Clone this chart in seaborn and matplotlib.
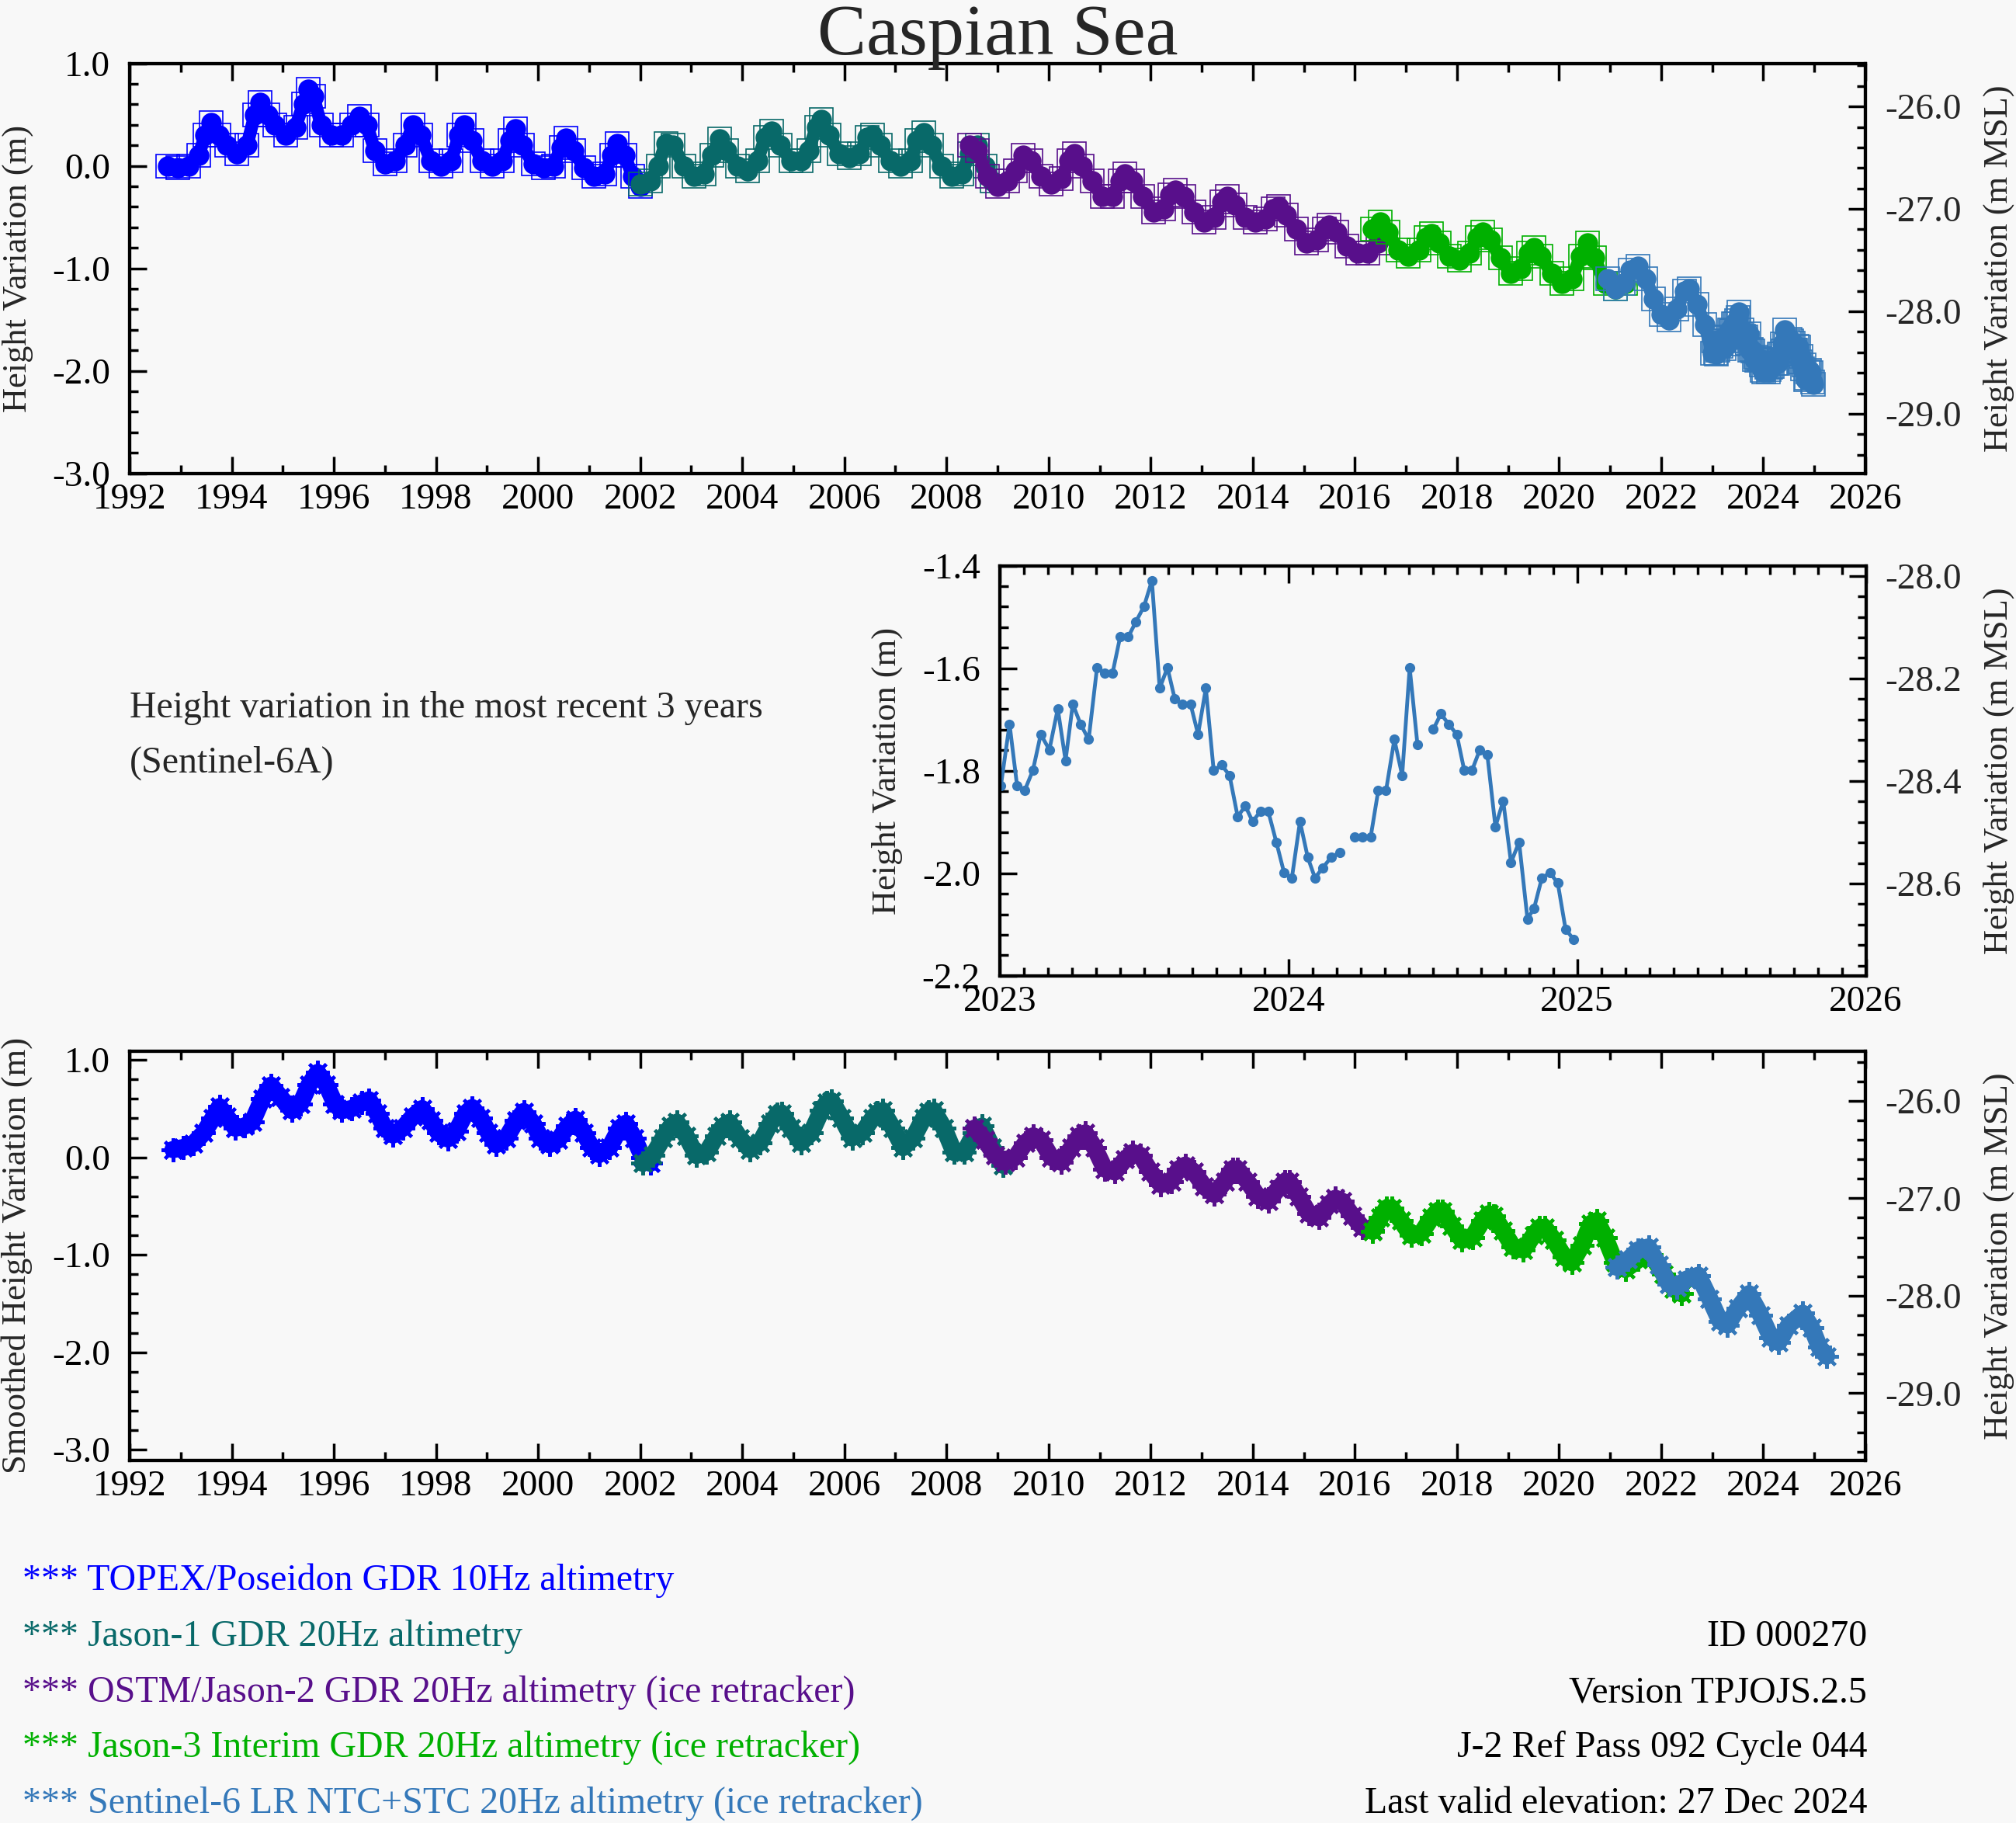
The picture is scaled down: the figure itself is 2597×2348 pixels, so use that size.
import numpy as np
import pandas as pd
import matplotlib
matplotlib.use("Agg")
import matplotlib.pyplot as plt
from matplotlib.ticker import MultipleLocator, FormatStrFormatter
import seaborn as sns

# ---------------- data ----------------
# top panel: 10-day heights (m), one list per mission
topex_t = [1992.75, 1992.95, 1993.15, 1993.35, 1993.48, 1993.60, 1993.75, 1993.90, 1994.10, 1994.30,
           1994.45, 1994.55, 1994.70, 1994.85, 1995.05, 1995.25, 1995.40, 1995.50, 1995.60, 1995.75,
           1995.95, 1996.15, 1996.35, 1996.50, 1996.65, 1996.80, 1997.00, 1997.20, 1997.40, 1997.55,
           1997.70, 1997.90, 1998.10, 1998.30, 1998.45, 1998.55, 1998.70, 1998.90, 1999.10, 1999.30,
           1999.45, 1999.55, 1999.70, 1999.90, 2000.10, 2000.30, 2000.45, 2000.55, 2000.70, 2000.90,
           2001.10, 2001.30, 2001.45, 2001.55, 2001.70, 2001.85, 2002.00]
topex_h = [0.00, -0.02, 0.00, 0.10, 0.30, 0.42, 0.30, 0.20, 0.12, 0.20,
           0.50, 0.62, 0.50, 0.40, 0.30, 0.38, 0.60, 0.75, 0.68, 0.40,
           0.30, 0.30, 0.40, 0.48, 0.40, 0.15, 0.02, 0.05, 0.20, 0.40,
           0.30, 0.05, 0.00, 0.05, 0.30, 0.40, 0.25, 0.05, 0.00, 0.05,
           0.25, 0.36, 0.20, 0.02, -0.02, 0.00, 0.18, 0.27, 0.15, -0.02,
           -0.10, -0.08, 0.10, 0.22, 0.10, -0.10, -0.20]

jason1_t = [2002.00, 2002.20, 2002.35, 2002.50, 2002.65, 2002.85, 2003.05, 2003.25, 2003.40, 2003.55,
            2003.70, 2003.90, 2004.10, 2004.30, 2004.45, 2004.57, 2004.75, 2004.95, 2005.15, 2005.30,
            2005.45, 2005.55, 2005.70, 2005.90, 2006.10, 2006.30, 2006.45, 2006.55, 2006.70, 2006.90,
            2007.10, 2007.30, 2007.42, 2007.55, 2007.70, 2007.90, 2008.10, 2008.30, 2008.45, 2008.60,
            2008.75, 2008.90]
jason1_h = [-0.18, -0.15, 0.00, 0.22, 0.20, 0.00, -0.10, -0.08, 0.10, 0.26,
            0.15, 0.00, -0.05, 0.05, 0.28, 0.34, 0.20, 0.05, 0.05, 0.15,
            0.38, 0.45, 0.30, 0.12, 0.08, 0.12, 0.28, 0.30, 0.20, 0.05,
            0.00, 0.05, 0.25, 0.32, 0.20, 0.00, -0.10, -0.08, 0.12, 0.20,
            0.00, -0.15]

jason2_t = [2008.45, 2008.60, 2008.80, 2009.00, 2009.20, 2009.35, 2009.50, 2009.65, 2009.85, 2010.05,
            2010.25, 2010.40, 2010.50, 2010.65, 2010.85, 2011.05, 2011.25, 2011.40, 2011.50, 2011.65,
            2011.85, 2012.05, 2012.25, 2012.38, 2012.48, 2012.65, 2012.85, 2013.05, 2013.25, 2013.40,
            2013.50, 2013.65, 2013.85, 2014.05, 2014.25, 2014.40, 2014.50, 2014.65, 2014.85, 2015.05,
            2015.25, 2015.40, 2015.50, 2015.65, 2015.85, 2016.05, 2016.25, 2016.45]
jason2_h = [0.20, 0.15, -0.10, -0.20, -0.15, -0.05, 0.10, 0.05, -0.10, -0.18,
            -0.12, 0.05, 0.12, 0.00, -0.15, -0.30, -0.30, -0.15, -0.08, -0.15,
            -0.30, -0.45, -0.42, -0.28, -0.24, -0.30, -0.45, -0.55, -0.50, -0.35,
            -0.30, -0.38, -0.50, -0.55, -0.52, -0.42, -0.40, -0.48, -0.62, -0.75,
            -0.72, -0.62, -0.58, -0.65, -0.78, -0.85, -0.85, -0.75]

jason3_t = [2016.35, 2016.50, 2016.65, 2016.85, 2017.05, 2017.25, 2017.40, 2017.50, 2017.65, 2017.85,
            2018.05, 2018.25, 2018.40, 2018.50, 2018.65, 2018.85, 2019.05, 2019.25, 2019.40, 2019.50,
            2019.65, 2019.85, 2020.05, 2020.25, 2020.42, 2020.55, 2020.70, 2020.90, 2021.10, 2021.30]
jason3_h = [-0.62, -0.55, -0.65, -0.82, -0.88, -0.82, -0.70, -0.66, -0.75, -0.88,
            -0.92, -0.85, -0.70, -0.65, -0.72, -0.90, -1.05, -1.00, -0.85, -0.80,
            -0.88, -1.05, -1.15, -1.10, -0.88, -0.75, -0.90, -1.15, -1.20, -1.15]

s6_early_t = [2020.95, 2021.10, 2021.25, 2021.40, 2021.55, 2021.70, 2021.85, 2022.00, 2022.15, 2022.30,
              2022.45, 2022.55, 2022.70, 2022.85]
s6_early_h = [-1.10, -1.20, -1.15, -1.02, -0.98, -1.10, -1.30, -1.45, -1.50, -1.40,
              -1.22, -1.20, -1.35, -1.55]

# inset: Sentinel-6A, last 3 years (nan = missing cycle)
s6_t = [2023.004, 2023.034, 2023.060, 2023.086, 2023.115, 2023.142, 2023.172, 2023.201, 2023.228, 2023.253,
        2023.280, 2023.308, 2023.337, 2023.364, 2023.391, 2023.417, 2023.445, 2023.472, 2023.500, 2023.527,
        2023.554, 2023.581, 2023.606, 2023.633, 2023.661, 2023.687, 2023.714, 2023.741, 2023.769, 2023.796,
        2023.824, 2023.851, 2023.876, 2023.903, 2023.930, 2023.958, 2023.985, 2024.012, 2024.040, 2024.067,
        2024.092, 2024.119, 2024.148, 2024.179, 2024.205, 2024.230, 2024.257, 2024.285, 2024.311, 2024.338,
        2024.367, 2024.394, 2024.420, 2024.447, 2024.475, 2024.502, 2024.528, 2024.555, 2024.583, 2024.609,
        2024.636, 2024.663, 2024.689, 2024.717, 2024.744, 2024.771, 2024.799, 2024.828, 2024.851, 2024.878,
        2024.906, 2024.933, 2024.960, 2024.988]
s6_h = [-1.829, -1.709, -1.829, -1.839, -1.799, -1.729, -1.759, -1.679, -1.780, -1.670,
        -1.709, -1.739, -1.599, -1.609, -1.609, -1.539, -1.539, -1.509, -1.479, -1.429,
        -1.639, -1.599, -1.659, -1.670, -1.670, -1.729, -1.639, -1.799, -1.789, -1.809,
        -1.889, -1.869, -1.899, -1.879, -1.879, -1.939, -1.999, -2.009, -1.899, -1.969,
        -2.009, -1.989, -1.969, -1.959, np.nan, -1.929, -1.929, -1.929, -1.839, -1.839,
        -1.739, -1.809, -1.599, -1.749, np.nan, -1.719, -1.689, -1.709, -1.729, -1.799,
        -1.799, -1.759, -1.769, -1.909, -1.859, -1.979, -1.939, -2.089, -2.068, -2.009,
        -1.999, -2.019, -2.109, -2.129]

# bottom panel: smoothed heights (m)
sm_topex_t = [1992.85, 1993.05, 1993.25, 1993.45, 1993.63, 1993.76, 1993.90, 1994.07, 1994.25, 1994.40,
              1994.60, 1994.77, 1994.95, 1995.18, 1995.35, 1995.52, 1995.68, 1995.85, 1996.02, 1996.15,
              1996.35, 1996.55, 1996.69, 1996.85, 1997.00, 1997.16, 1997.35, 1997.55, 1997.73, 1997.90,
              1998.05, 1998.23, 1998.40, 1998.58, 1998.71, 1998.88, 1999.03, 1999.18, 1999.38, 1999.58,
              1999.72, 1999.90, 2000.05, 2000.22, 2000.40, 2000.58, 2000.73, 2000.90, 2001.05, 2001.20,
              2001.40, 2001.60, 2001.72, 2001.88, 2002.05, 2002.20]
sm_topex_h = [0.08, 0.10, 0.14, 0.25, 0.40, 0.52, 0.42, 0.30, 0.32, 0.36,
              0.60, 0.74, 0.62, 0.48, 0.55, 0.75, 0.87, 0.75, 0.55, 0.48,
              0.50, 0.56, 0.59, 0.45, 0.30, 0.23, 0.30, 0.42, 0.50, 0.38,
              0.25, 0.19, 0.27, 0.45, 0.51, 0.40, 0.25, 0.13, 0.20, 0.38,
              0.47, 0.35, 0.20, 0.13, 0.18, 0.32, 0.39, 0.25, 0.10, 0.03,
              0.10, 0.30, 0.35, 0.20, 0.00, -0.06]

sm_jason1_t = [2002.05, 2002.25, 2002.45, 2002.60, 2002.72, 2002.90, 2003.10, 2003.30, 2003.50, 2003.62,
               2003.75, 2003.95, 2004.15, 2004.35, 2004.55, 2004.68, 2004.78, 2004.95, 2005.15, 2005.35,
               2005.55, 2005.65, 2005.75, 2005.95, 2006.15, 2006.35, 2006.55, 2006.65, 2006.75, 2006.95,
               2007.15, 2007.35, 2007.55, 2007.65, 2007.75, 2007.95, 2008.15, 2008.35, 2008.55, 2008.70,
               2008.90, 2009.10]
sm_jason1_h = [-0.06, 0.02, 0.20, 0.32, 0.36, 0.22, 0.02, 0.05, 0.22, 0.32,
               0.36, 0.20, 0.08, 0.15, 0.35, 0.44, 0.45, 0.30, 0.15, 0.25,
               0.48, 0.56, 0.58, 0.40, 0.20, 0.25, 0.40, 0.46, 0.48, 0.30,
               0.10, 0.20, 0.40, 0.47, 0.48, 0.30, 0.05, 0.05, 0.25, 0.32,
               0.10, -0.08]

sm_jason2_t = [2008.55, 2008.75, 2008.95, 2009.15, 2009.35, 2009.55, 2009.70, 2009.85, 2010.05, 2010.25,
               2010.45, 2010.60, 2010.72, 2010.90, 2011.10, 2011.30, 2011.50, 2011.65, 2011.80, 2012.00,
               2012.20, 2012.40, 2012.55, 2012.68, 2012.85, 2013.05, 2013.25, 2013.45, 2013.60, 2013.70,
               2013.90, 2014.10, 2014.30, 2014.50, 2014.62, 2014.72, 2014.90, 2015.10, 2015.30, 2015.50,
               2015.62, 2015.75, 2015.95, 2016.15, 2016.35]
sm_jason2_h = [0.30, 0.18, 0.02, -0.05, 0.00, 0.15, 0.22, 0.18, 0.00, -0.05,
               0.10, 0.22, 0.25, 0.10, -0.12, -0.15, -0.02, 0.05, 0.02, -0.15,
               -0.28, -0.25, -0.12, -0.08, -0.15, -0.30, -0.38, -0.25, -0.12, -0.12,
               -0.25, -0.40, -0.45, -0.32, -0.25, -0.25, -0.40, -0.58, -0.62, -0.48,
               -0.42, -0.45, -0.60, -0.72, -0.75]

sm_jason3_t = [2016.35, 2016.50, 2016.62, 2016.72, 2016.90, 2017.10, 2017.30, 2017.50, 2017.62, 2017.72,
               2017.90, 2018.10, 2018.30, 2018.50, 2018.62, 2018.72, 2018.90, 2019.10, 2019.30, 2019.50,
               2019.62, 2019.72, 2019.90, 2020.10, 2020.25, 2020.45, 2020.62, 2020.74, 2020.90, 2021.10,
               2021.30, 2021.55, 2021.80, 2022.05, 2022.25, 2022.40]
sm_jason3_h = [-0.76, -0.62, -0.52, -0.52, -0.65, -0.80, -0.78, -0.62, -0.55, -0.55,
               -0.70, -0.85, -0.82, -0.65, -0.58, -0.60, -0.75, -0.92, -0.95, -0.80,
               -0.72, -0.72, -0.85, -1.02, -1.08, -0.90, -0.68, -0.65, -0.82, -1.08,
               -1.15, -1.05, -1.00, -1.20, -1.35, -1.40]

sm_s6_t = [2021.14, 2021.35, 2021.55, 2021.75, 2021.95, 2022.15, 2022.30, 2022.50, 2022.73, 2022.95,
           2023.15, 2023.30, 2023.50, 2023.72, 2023.95, 2024.15, 2024.30, 2024.50, 2024.77, 2024.95,
           2025.10, 2025.24]
sm_s6_h = [-1.13, -1.05, -0.95, -0.92, -1.10, -1.30, -1.33, -1.25, -1.21, -1.45,
           -1.68, -1.72, -1.55, -1.40, -1.62, -1.85, -1.90, -1.72, -1.60, -1.75,
           -1.95, -2.04]

missions = ["TOPEX/Poseidon GDR 10Hz altimetry",
            "Jason-1 GDR 20Hz altimetry",
            "OSTM/Jason-2 GDR 20Hz altimetry (ice retracker)",
            "Jason-3 Interim GDR 20Hz altimetry (ice retracker)",
            "Sentinel-6 LR NTC+STC 20Hz altimetry (ice retracker)"]
colors = ["#0000ff", "#086969", "#580f8b", "#00b000", "#3478b9"]
info_lines = ["ID 000270", "Version TPJOJS.2.5", "J-2 Ref Pass 092 Cycle 044",
              "Last valid elevation: 27 Dec 2024"]
msl_offset = -26.58   # height variation -> m MSL

BG = "#f8f8f8"
sns.set_theme(style="ticks", rc={"figure.facecolor": BG, "axes.facecolor": BG})
plt.rcParams["font.family"] = ["Liberation Serif", "DejaVu Serif"]
plt.rcParams["axes.unicode_minus"] = False


def style_axis(ax, xmaj, xmin, ymaj, ymin, xlim, ylim, yfmt="%.1f"):
    ax.set_xlim(*xlim)
    ax.set_ylim(*ylim)
    ax.xaxis.set_major_locator(MultipleLocator(xmaj))
    ax.xaxis.set_minor_locator(MultipleLocator(xmin))
    ax.yaxis.set_major_locator(MultipleLocator(ymaj))
    ax.yaxis.set_minor_locator(MultipleLocator(ymin))
    ax.yaxis.set_major_formatter(FormatStrFormatter(yfmt))
    ax.xaxis.set_major_formatter(FormatStrFormatter("%d"))
    ax.tick_params(which="both", direction="in", top=True, bottom=True, left=True, right=False,
                   width=2.5, color="black", labelsize=34, labelcolor="black")
    ax.tick_params(which="major", length=16)
    ax.tick_params(which="minor", length=8)
    ax.tick_params(axis="x", pad=9)
    ax.tick_params(axis="y", pad=18)
    for sp in ax.spines.values():
        sp.set_linewidth(3)
        sp.set_color("black")
        sp.set_visible(True)
    ax.set_xlabel("")
    ax.set_ylabel("")


def right_axis(ax, ymaj, ymin):
    lo, hi = ax.get_ylim()
    axr = ax.twinx()
    axr.set_ylim(lo + msl_offset, hi + msl_offset)
    axr.yaxis.set_major_locator(MultipleLocator(ymaj))
    axr.yaxis.set_minor_locator(MultipleLocator(ymin))
    axr.yaxis.set_major_formatter(FormatStrFormatter("%.1f"))
    axr.tick_params(which="both", direction="in", right=True, left=False, width=2.5,
                    color="black", labelsize=34, pad=18)
    axr.tick_params(which="major", length=16)
    axr.tick_params(which="minor", length=8)
    for sp in axr.spines.values():
        sp.set_linewidth(3)
        sp.set_color("black")
    return axr


fig = plt.figure(figsize=(25.97, 23.48), dpi=100)

# ---------------- top panel ----------------
ax1 = fig.add_axes([0.0643, 0.7404, 0.8610, 0.2248])
s6_valid = [(t, h) for t, h in zip(s6_t, s6_h) if not np.isnan(h)]
s6_all_t = s6_early_t + [p[0] for p in s6_valid]
s6_all_h = s6_early_h + [p[1] for p in s6_valid]
top_series = [(topex_t, topex_h), (jason1_t, jason1_h), (jason2_t, jason2_h),
              (jason3_t, jason3_h), (s6_all_t, s6_all_h)]
for (t, h), c in zip(top_series, colors):
    sns.lineplot(x=t, y=h, ax=ax1, color=c, linestyle="", marker="s", markersize=22,
                 markerfacecolor="none", markeredgecolor=c, markeredgewidth=1.2,
                 estimator=None, sort=False)
    sns.lineplot(x=t, y=h, ax=ax1, color=c, linewidth=12, marker="o", markersize=19,
                 markeredgewidth=0, estimator=None, sort=False)
style_axis(ax1, 2, 1, 1.0, 0.2, (1992, 2026), (-3.0, 1.0))
right_axis(ax1, 1.0, 0.2)

# ---------------- inset: last 3 years ----------------
ax2 = fig.add_axes([0.4959, 0.4647, 0.4296, 0.2250])
df_s6 = pd.DataFrame({"year": s6_t, "height": s6_h})
df_s6["seg"] = df_s6["height"].isna().cumsum()
sns.lineplot(data=df_s6.dropna(), x="year", y="height", units="seg", estimator=None,
             ax=ax2, color=colors[4], linewidth=3.5, marker="o", markersize=9.5,
             markeredgewidth=0, sort=False)
style_axis(ax2, 1, 1 / 12, 0.2, 0.04, (2023, 2026), (-2.2, -1.4))
right_axis(ax2, 0.2, 0.04)

# ---------------- bottom panel: smoothed ----------------
ax3 = fig.add_axes([0.0643, 0.1990, 0.8610, 0.2243])
bottom_series = [(sm_topex_t, sm_topex_h), (sm_jason1_t, sm_jason1_h), (sm_jason2_t, sm_jason2_h),
                 (sm_jason3_t, sm_jason3_h), (sm_s6_t, sm_s6_h)]
for (t, h), c in zip(bottom_series, colors):
    sns.lineplot(x=t, y=h, ax=ax3, color=c, linewidth=16, marker=(8, 2, 0), markersize=22,
                 markeredgecolor=c, markeredgewidth=3, estimator=None, sort=False)
style_axis(ax3, 2, 1, 1.0, 0.2, (1992, 2026), (-3.108, 1.088))
right_axis(ax3, 1.0, 0.2)

# ---------------- text ----------------
fig.text(0.4948, 0.9702, "Caspian Sea", fontsize=68, ha="center", va="baseline")
lab = dict(fontsize=32, rotation=90, ha="center", va="center")
fig.text(0.0089, 0.8528, "Height Variation (m)", **lab)
fig.text(0.9915, 0.8528, "Height Variation (m MSL)", **lab)
fig.text(0.4401, 0.5772, "Height Variation (m)", **lab)
fig.text(0.9915, 0.5772, "Height Variation (m MSL)", **lab)
fig.text(0.0081, 0.3112, "Smoothed Height Variation (m)", **lab)
fig.text(0.9915, 0.3112, "Height Variation (m MSL)", **lab)

fig.text(0.0643, 0.6065, "Height variation in the most recent 3 years", fontsize=34.5, va="baseline")
fig.text(0.0643, 0.5762, "(Sentinel-6A)", fontsize=34.5, va="baseline")

leg_y = [0.1278, 0.0971, 0.0664, 0.0362, 0.0055]
for name, c, y in zip(missions, colors, leg_y):
    fig.text(0.0112, y, "*** " + name, color=c, fontsize=34.5, va="baseline")
for line, y in zip(info_lines, leg_y[1:]):
    fig.text(0.9261, y, line, color="black", fontsize=34.5, va="baseline", ha="right")

fig.savefig("out.png", dpi=100, facecolor=BG)
